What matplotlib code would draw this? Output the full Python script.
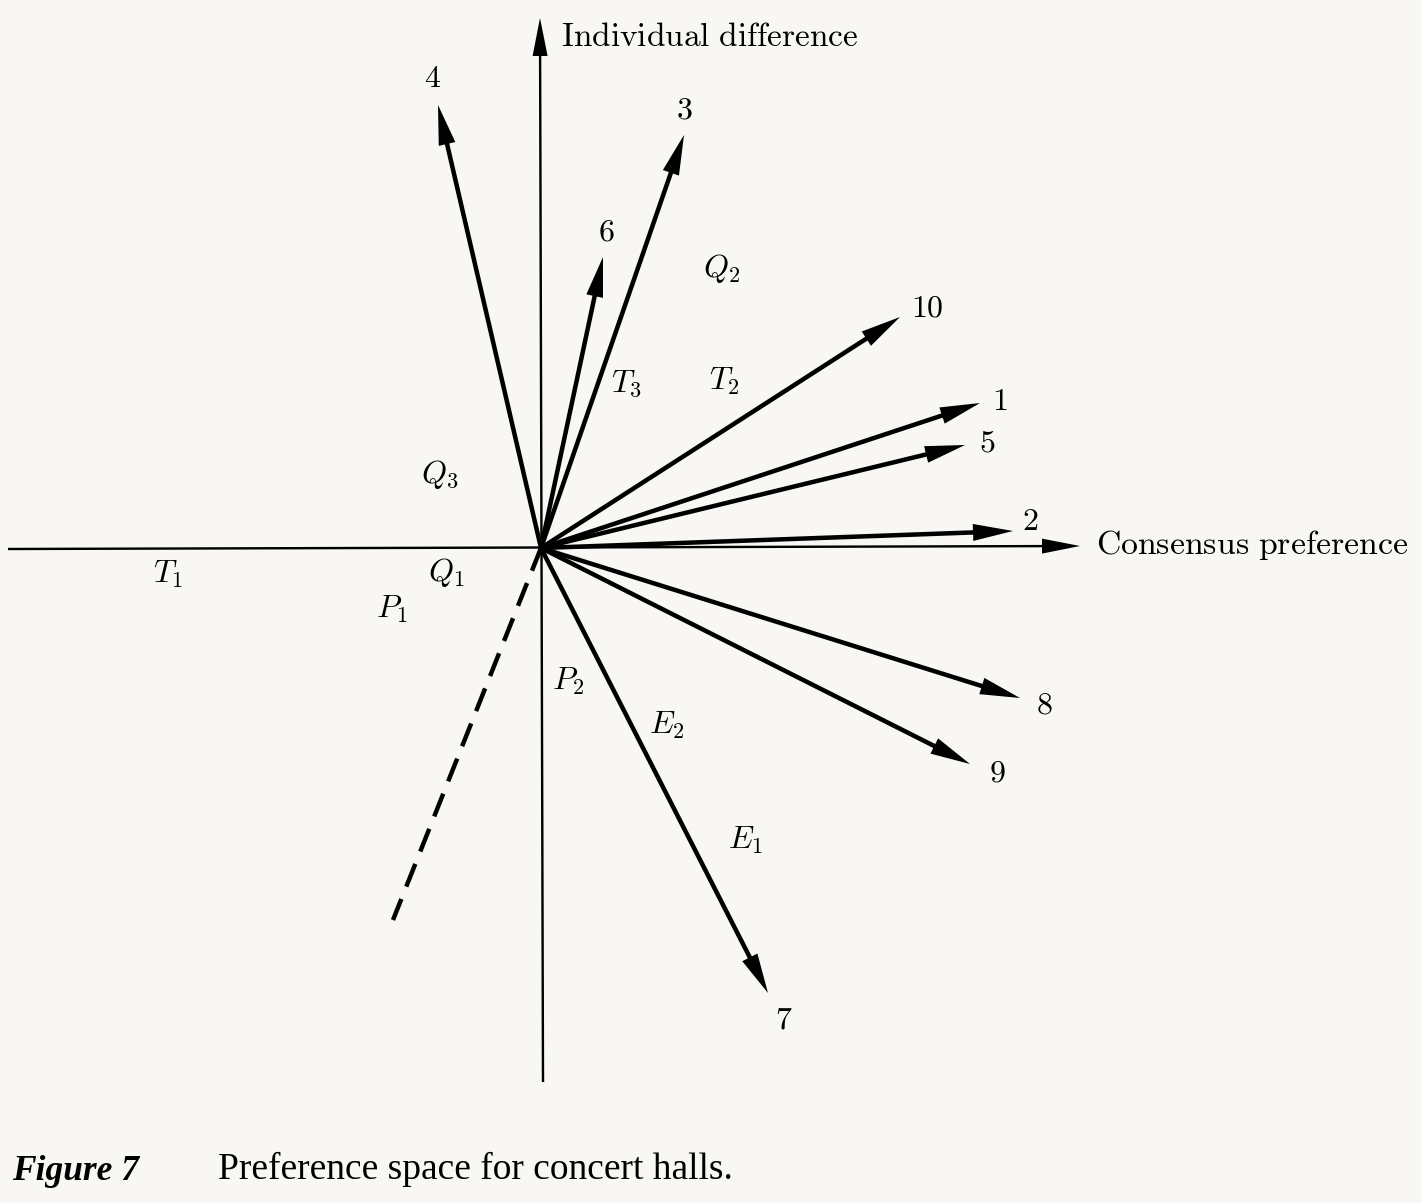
import matplotlib
matplotlib.use("Agg")
import matplotlib.pyplot as plt

plt.rcParams['mathtext.fontset'] = 'cm'

# Preference vectors (tip positions relative to origin)
halls = ['1', '2', '3', '4', '5', '6', '7', '8', '9', '10']
vx = [4.39, 4.72, 1.43, -1.03, 4.24, 0.62, 2.27, 4.79, 4.29, 3.59]
vy = [1.45, 0.17, 4.13, 4.43, 1.03, 2.91, -4.45, -1.50, -2.16, 2.31]
# label positions of the vectors
lx = [4.59, 4.89, 1.43, -1.08, 4.46, 0.65, 2.43, 5.03, 4.56, 3.86]
ly = [1.47, 0.27, 4.38, 4.70, 1.05, 3.16, -4.72, -1.57, -2.25, 2.40]

# dashed line end
dash_x = [0.0, -1.48]
dash_y = [0.0, -3.72]

# region labels
regions = ['Q_2', 'T_3', 'T_2', 'Q_3', 'T_1', 'Q_1', 'P_1', 'P_2', 'E_2', 'E_1']
rx = [1.81, 0.85, 1.83, -1.01, -3.73, -0.95, -1.49, 0.27, 1.26, 2.04]
ry = [2.80, 1.65, 1.67, 0.73, -0.26, -0.24, -0.61, -1.33, -1.77, -2.92]

# axes extents
h_axis = (-5.33, 5.39)
v_axis = (-5.34, 5.30)

bg = '#f8f7f3'
fig = plt.figure(figsize=(14.22, 12.03), dpi=100, facecolor=bg)
ax = fig.add_axes([0, 0, 1, 1])
ax.set_facecolor(bg)
ax.set_xlim(-5.41, 8.81)
ax.set_ylim(-6.55, 5.48)
ax.axis('off')

# axes
ax.arrow(h_axis[0], -0.01, h_axis[1] - h_axis[0], 0.03, width=0.024,
         head_width=0.15, head_length=0.38, length_includes_head=True,
         color='black', lw=0)
ax.arrow(0.02, v_axis[0], -0.03, v_axis[1] - v_axis[0], width=0.024,
         head_width=0.15, head_length=0.38, length_includes_head=True,
         color='black', lw=0)

for x, y in zip(vx, vy):
    ax.arrow(0, 0, x, y, width=0.045, head_width=0.17, head_length=0.40,
             length_includes_head=True, color='black', lw=0)

ax.plot(dash_x, dash_y, color='black', lw=3.2, dashes=(5.5, 3.0), solid_capstyle='butt')

fs = 23
for name, x, y in zip(halls, lx, ly):
    ax.text(x, y, '$' + name + '$', fontsize=fs, ha='center', va='center')

for name, x, y in zip(regions, rx, ry):
    ax.text(x, y, '$' + name + '$', fontsize=fs, ha='center', va='center')

ax.text(0.20, 5.12, r'$\mathrm{Individual\ difference}$', fontsize=24, ha='left', va='center')
ax.text(5.55, 0.03, r'$\mathrm{Consensus\ preference}$', fontsize=24.3, ha='left', va='center')

ax.text(-5.29, -6.24, 'Figure 7', fontsize=25.5, fontweight='bold', fontstyle='italic',
        family='Liberation Serif', ha='left', va='center')
ax.text(-3.23, -6.21, 'Preference space for concert halls.', fontsize=27,
        family='Liberation Serif', ha='left', va='center')

fig.savefig('out.png', dpi=100, facecolor=bg)
